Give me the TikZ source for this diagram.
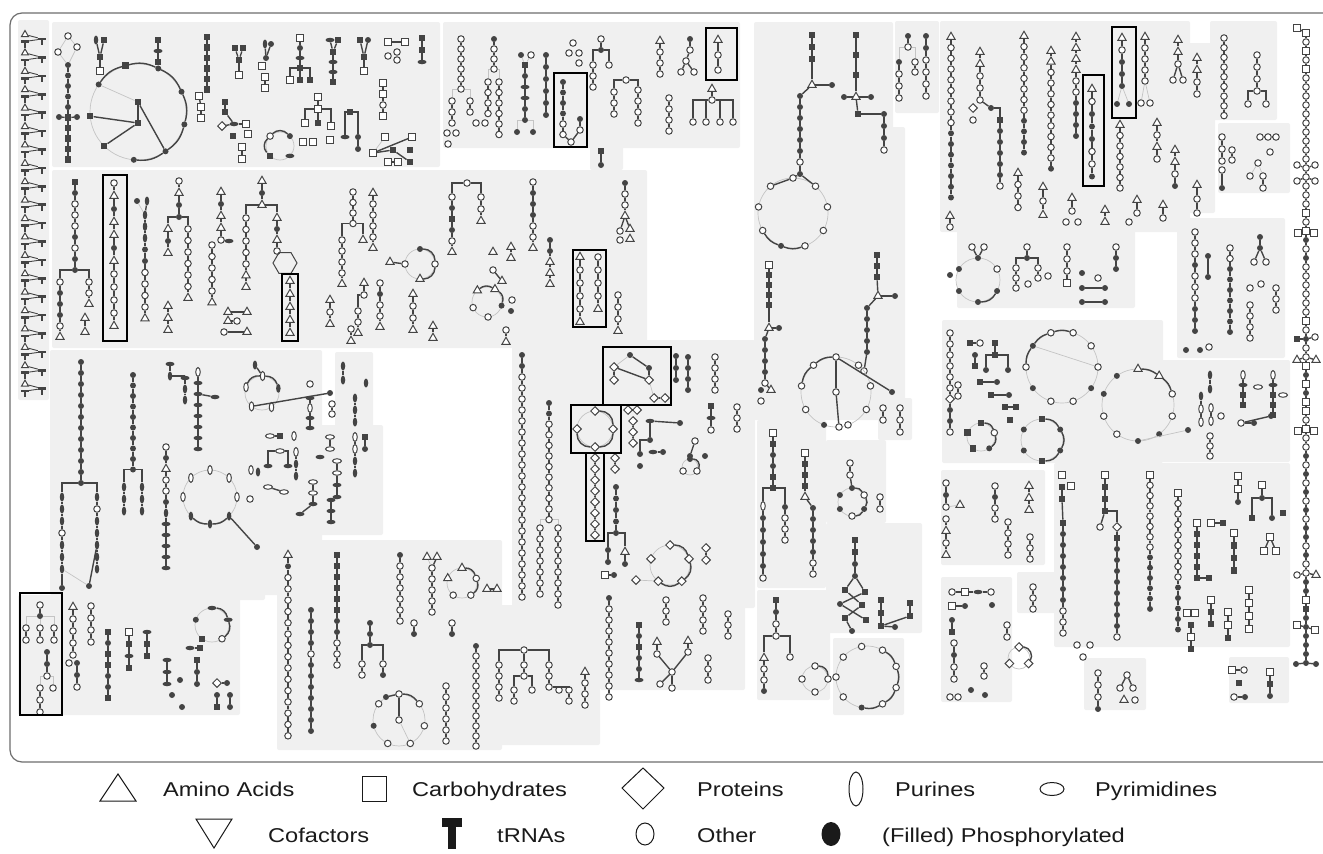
\documentclass[tikz,border=0pt]{standalone}
\usepackage{fontspec}
\setmainfont{Liberation Sans}
\newfontfamily\lgf[FakeStretch=1.18]{Liberation Sans}
\usetikzlibrary{shapes.geometric}
\definecolor{ng}{HTML}{444444}
\definecolor{pg}{HTML}{F0F0F0}
\definecolor{lg}{HTML}{C4C4C4}
\definecolor{fr}{HTML}{6E6E6E}
\definecolor{tx}{HTML}{1A1A1A}
\tikzset{
 kO/.style={circle,draw=ng,fill=white,line width=1pt,inner sep=0pt,minimum size=6.5pt},
 kF/.style={circle,fill=ng,inner sep=0pt,minimum size=6pt},
 kS/.style={rectangle,draw=ng,fill=white,line width=1pt,inner sep=0pt,minimum size=6.5pt},
 kQ/.style={rectangle,fill=ng,inner sep=0pt,minimum size=6.5pt},
 kT/.style={regular polygon,regular polygon sides=3,draw=ng,fill=white,line width=1pt,inner sep=0pt,minimum size=9.5pt},
 kD/.style={diamond,draw=ng,fill=white,line width=1pt,inner sep=0pt,minimum size=9pt},
 kP/.style={ellipse,fill=ng,inner sep=0pt,minimum width=4.5pt,minimum height=9pt},
 kp/.style={ellipse,draw=ng,fill=white,line width=1pt,inner sep=0pt,minimum width=4.5pt,minimum height=9pt},
 kY/.style={ellipse,fill=ng,inner sep=0pt,minimum width=9pt,minimum height=4.5pt},
 ky/.style={ellipse,draw=ng,fill=white,line width=1pt,inner sep=0pt,minimum width=9pt,minimum height=4.5pt},
 kRb/.style={rectangle,fill=ng,inner sep=0pt,minimum width=8pt,minimum height=2.6pt},
 kRs/.style={rectangle,fill=ng,inner sep=0pt,minimum width=2.4pt,minimum height=6pt},
 ed/.style={draw=ng,line width=1.4pt},
 el/.style={draw=lg,line width=0.7pt},
 hl/.style={draw=black,line width=2.8pt},
 lsym/.style={draw=tx,line width=1pt},
 lgt/.style={font=\lgf\fontsize{20}{24}\selectfont,text=tx,inner sep=0pt,anchor=base west},
}
\newcounter{ch}
\newcommand\Vc[4][11]{%
  \stepcounter{ch}\xdef\cid{q\the\value{ch}}%
  \foreach \ty [count=\i] in {#4}{%
    \node[k\ty] (\cid n\i) at (#2,{#3+(\i-1)*#1}) {};%
    \xdef\cL{\cid n\i}%
    \ifnum\i>1\relax\pgfmathtruncatemacro\jj{\i-1}\draw[ed] (\cid n\jj) -- (\cid n\i);\fi
  }%
  \xdef\cF{\cid n1}}
\newcommand\Hc[4][11]{%
  \stepcounter{ch}\xdef\cid{q\the\value{ch}}%
  \foreach \ty [count=\i] in {#4}{%
    \node[k\ty] (\cid n\i) at ({#2+(\i-1)*#1},#3) {};%
    \xdef\cL{\cid n\i}%
    \ifnum\i>1\relax\pgfmathtruncatemacro\jj{\i-1}\draw[ed] (\cid n\jj) -- (\cid n\i);\fi
  }%
  \xdef\cF{\cid n1}}
\newcommand\Rg[6]{%
  \stepcounter{ch}\xdef\cid{q\the\value{ch}}%
  \draw[el] (#1,#2) circle[radius=#3];%
  \foreach \ty [count=\i] in {#5}{\xdef\rN{\i}}%
  \pgfmathsetmacro\bA{180/\rN}%
  \foreach \ty [count=\i] in {#5}{%
    \node[k\ty] (\cid n\i) at ({#1+#3*cos(#4+(\i-1)*360/\rN)},{#2+#3*sin(#4+(\i-1)*360/\rN)}) {};}%
  \foreach \i in {1,...,#6}{\pgfmathtruncatemacro\jj{mod(\i,\rN)+1}\draw[ed] (\cid n\i) to[bend left=\bA] (\cid n\jj);}%
  \xdef\cF{\cid n1}\xdef\cL{\cid n\rN}}
\newcommand\SL[1]{\expandafter\xdef\csname #1\endcsname{\cL}}
\newcommand\SF[1]{\expandafter\xdef\csname #1\endcsname{\cF}}
\newcommand\SN[2]{\expandafter\xdef\csname #1\endcsname{\cid n#2}}
\newcommand\Lk[2]{\draw[ed] (#1) -- (#2);}
\newcommand\Ll[2]{\draw[el] (#1) -- (#2);}
\newcommand\Fk[2]{\draw[ed] (#1) -| (#2);}
\newcommand\Fl[2]{\draw[el] (#1) -| (#2);}
\newcommand\Pn[4]{\fill[pg,rounded corners=2pt] (#1,#2) rectangle (#3,#4);}
\newcommand\Hl[4]{\draw[hl] (#1,#2) rectangle (#3,#4);}
\begin{document}
\begin{tikzpicture}[x=1pt,y=-1pt]
\useasboundingbox (0,0) rectangle (1323,854);
\fill[white] (0,0) rectangle (1323,854);
% ---------------- panels
\Pn{18}{20}{49}{400}
\Pn{52}{22}{440}{167}
\Pn{443}{22}{740}{148}
\Pn{590}{137}{623}{170}
\Pn{52}{170}{647}{348}
\Pn{754}{22}{893}{420}
\Pn{880}{127}{905}{400}
\Pn{878}{398}{912}{440}
\Pn{895}{21}{939}{113}
\Pn{940}{21}{1190}{232}
\Pn{1100}{43}{1215}{213}
\Pn{1210}{21}{1277}{120}
\Pn{1218}{123}{1290}{193}
\Pn{957}{230}{1135}{308}
\Pn{1177}{218}{1285}{358}
\Pn{942}{320}{1163}{463}
\Pn{1100}{360}{1290}{462}
\Pn{50}{350}{322}{595}
\Pn{128}{590}{265}{600}
\Pn{335}{352}{373}{435}
\Pn{257}{425}{383}{535}
\Pn{18}{595}{240}{715}
\Pn{277}{540}{502}{750}
\Pn{466}{605}{600}{745}
\Pn{512}{340}{755}{608}
\Pn{600}{580}{745}{690}
\Pn{757}{420}{826}{588}
\Pn{826}{440}{886}{523}
\Pn{826}{523}{922}{633}
\Pn{757}{590}{830}{700}
\Pn{833}{638}{904}{715}
\Pn{941}{470}{1045}{565}
\Pn{1054}{463}{1290}{647}
\Pn{941}{577}{1012}{702}
\Pn{1017}{572}{1056}{613}
\Pn{1084}{658}{1146}{710}
\Pn{1229}{657}{1289}{703}
% ---------------- frame
\draw[fr,line width=1.2pt,rounded corners=12pt] (1345,13) -- (10,13) -- (10,762) -- (1345,762);
% ---------------- tRNA column
\foreach \i in {0,...,19}{%
  \pgfmathsetmacro\yy{39+18.4*\i}%
  \node[kT,minimum size=8pt] (ta\i) at (25,\yy-4.5) {};
  \node[kRb] (tb\i) at (25,\yy+2.5) {};
  \node[kRs] (ts\i) at (25,\yy+5.5) {};
  \node[kRb] (tc\i) at (42,\yy) {};
  \node[kRs] (td\i) at (42,\yy+3) {};
  \draw[ed,line width=0.9pt] (ta\i) -- (tc\i);
  \draw[ed,line width=0.9pt] (tb\i) -- (tc\i);
}
% ---------------- P2 top-left
\Vc{58}{52}{O}\SL{zA}\Vc{68}{36}{O}\SL{zB}\Vc{77}{47}{O}\SL{zC}\Ll{\zA}{\zB}\Ll{\zB}{\zC}
\Vc[10.5]{68}{65}{F,F,F,F,F,Q,Q,Q,Q,Q}\SN{zD}{6}\Ll{\zA}{\cF}\Ll{\zC}{\cF}
\Vc{59}{117}{F}\Lk{\zD}{\cL}\Vc{77}{117}{F}\Lk{\zD}{\cL}
\Rg{138}{112}{48}{215}{F,Q,F,F,F,F,F,Q,Q}{6}\SN{zE}{6}\SN{zF}{8}\SN{zG}{9}\SN{zJ}{1}
\Vc{138}{102}{Q}\SL{zH}\Vc{138}{123}{Q}\SL{zI}
\Lk{\zH}{\zE}\Lk{\zI}{\zF}\Lk{\zI}{\zG}\Ll{\zH}{\zJ}\Lk{\zH}{\zI}
\Vc{96}{40}{P}\SL{zA}\Vc{104}{40}{Q}\SL{zB}\Vc[14]{100}{57}{Q,S}\Lk{\zA}{\cF}\Lk{\zB}{\cF}
\Vc[11]{158}{40}{Q,Y,Q}
\Vc[10.5]{207}{37}{Q,Q,Q,Q,Q,Q}
\Vc{199}{96}{S}\SL{zA}\Vc[11]{201}{107}{S,S}\Lk{\zA}{\cF}
\Vc{235}{48}{Q}\SL{zA}\Vc{243}{48}{Q}\SL{zB}\Vc[15]{239}{60}{Q,S}\Lk{\zA}{\cF}\Lk{\zB}{\cF}
\Vc[10]{225}{102}{Q,Q}\SL{zA}\Vc{222}{126}{D}\SL{zB}\Hc[12]{234}{124}{Y,S}\Lk{\zB}{\cF}\Lk{\zA}{\cF}
\Vc{233}{136}{Q}\Vc{248}{134}{S}\Vc[12]{242}{147}{S,S}
\Vc{265}{44}{P}\SL{zA}\Vc{271}{44}{F}\SL{zB}\Vc{266}{58}{F}\Lk{\zA}{\cL}\Lk{\zB}{\cL}\Vc{262}{66}{S}\Vc[11]{265}{77}{S,S}
\Vc[10]{300}{38}{S,F,Y,Q}\SL{zA}
\Vc{290}{80}{S}\Fk{\zA}{\cL}\Vc{300}{80}{Q}\Lk{\zA}{\cL}\Vc{310}{80}{Q}\Fk{\zA}{\cL}
\Vc{330}{40}{Y}\SL{zA}\Vc{338}{40}{Q}\SL{zB}\Vc[10]{333}{52}{Q,Y,Y,Q}\Lk{\zA}{\cF}\Lk{\zB}{\cF}
\Vc{360}{40}{Q}\SL{zA}\Vc{368}{40}{F}\SL{zB}\Vc[14]{364}{57}{Q,S}\Lk{\zA}{\cF}\Lk{\zB}{\cF}
\Hc[17]{388}{42}{S,S}\Vc{388}{56}{O}\Vc{397}{52}{O}\Vc{397}{60}{O}
\Vc[12]{422}{38}{Q,Q,Y}
\Vc[11]{383}{83}{S,S,O,S}
\Vc[12]{318}{97}{S,S}\SL{zA}\Vc{305}{123}{S}\Fk{\zA}{\cL}\Vc{318}{123}{Q}\Lk{\zA}{\cL}\Vc{331}{126}{S}\Fk{\zA}{\cL}
\Vc{303}{142}{S}\Vc{313}{142}{S}\Vc{330}{140}{S}
\Vc{350}{112}{Q}\SL{zA}\Vc[12]{345}{137}{Y}\Fk{\zA}{\cL}\Vc[12]{358}{137}{F,F}\Fk{\zA}{\cF}
\Rg{280}{146}{14}{135}{Q,O,F,Y}{2}
\Vc{385}{137}{S}\SL{zA}\Vc{412}{137}{S}\SL{zB}\Vc{373}{153}{S}\SL{zC}\Vc{393}{150}{Q}\SL{zD}
\Lk{\zC}{\zB}\Ll{\zA}{\zC}\Lk{\zC}{\zD}
\Hc[10]{388}{162}{S,S}\Vc{410}{162}{Q}\Lk{\zD}{\cL}\Vc{410}{150}{Q}
% ---------------- P3 top-mid
\Vc[10]{461}{39}{O,O,O,O,O,O}\SL{zA}
\Vc[11]{452}{101}{O,O,O}\Fl{\zA}{\cF}\Vc[11]{470}{101}{O,O}\Fl{\zA}{\cF}\Vc{476}{123}{O}\Vc{485}{123}{O}
\Vc{447}{133}{O}\Vc{456}{133}{O}\Vc{448}{144}{O}
\Vc[10]{494}{39}{F,O,O,O}\SL{zA}
\Vc[10.5]{488}{82}{O,O,O,O}\Fl{\zA}{\cF}\Vc[10.5]{499}{82}{O,O,O,O,O,O}\Fl{\zA}{\cF}
\Vc{521}{55}{F}\SL{zA}\Vc{531}{55}{O}\SL{zB}
\Vc[11]{525}{65}{Q,F,Y,Y,F,F}\Ll{\zA}{\cF}\Ll{\zB}{\cF}\SL{zA}
\Vc{517}{132}{F}\Fl{\zA}{\cL}\Vc{533}{132}{F}\Fl{\zA}{\cL}
\Vc[12]{546}{55}{F,F,F,F,F,F}
\Vc[10.5]{563}{82}{F,F,F,F,O,O}\SL{zA}\Vc[11]{580}{119}{F,O}\SL{zB}\Vc{571}{142}{O}\Lk{\zA}{\cL}\Lk{\zB}{\cL}
\Vc{573}{43}{O}\Vc{569}{53}{O}\Vc{579}{53}{O}\Vc{579}{63}{O}
\Vc{601}{39}{O,F}\SL{zA}\Vc[11]{593}{65}{O,O,O}\Fk{\zA}{\cF}\Vc{609}{65}{O}\Fk{\zA}{\cL}
\Vc{626}{80}{O}\SL{zA}\Vc[11]{614}{92}{O,O,O}\Fk{\zA}{\cF}\Vc[11]{638}{90}{O,O,O,O}\Fk{\zA}{\cF}
\Vc[11]{660}{41}{T,O,O,O}
\Vc[11]{669}{98}{O,O,O,O}
\Vc[11]{690}{39}{F,O}\SL{zA}\Vc{686}{61}{O}\Lk{\zA}{\cL}\SL{zB}\Vc{681}{72}{O}\Lk{\zB}{\cL}\Vc{694}{72}{O}\Lk{\zB}{\cL}
\Vc[15]{718}{40}{T,O,O}
\Vc[11]{712}{89}{T,O}\SL{zA}\Vc{693}{122}{O}\Fk{\zA}{\cL}\Vc{706}{122}{O}\Fk{\zA}{\cL}\Vc{720}{122}{O}\Fk{\zA}{\cL}\Vc{733}{122}{O}\Fk{\zA}{\cL}
\Vc[14]{601}{151}{Q,F}
% ---------------- P4 second row
\Vc[11]{75}{182}{Q,F,O,O,O,F,O,F,F}\SL{zA}
\Vc[11]{60}{282}{O,F,F,F,O,T}\Fk{\zA}{\cF}\Vc[11]{89}{282}{O,O,T}\Fk{\zA}{\cF}
\Vc[14]{85}{318}{T,T}
\Vc[13]{114}{183}{O,T,F,T,T,F,T,O,O,O,O,T}
\Vc{137}{201}{F}\SL{zA}\Vc{147}{201}{P}\SL{zB}
\Vc[11.5]{145}{215}{P,P,P,F,F,O,O,O,O,T}\Ll{\zA}{\cF}\Lk{\zB}{\cF}
\Vc[12]{179}{181}{O,T,F,F}\SL{zA}
\Vc[12]{168}{229}{T,F,T}\Fk{\zA}{\cF}\Vc[11.5]{188}{229}{O,O,O,O,O,O,T}\Fk{\zA}{\cF}
\Vc[12]{168}{306}{T,T,T}
\Vc[12]{221}{192}{T,F,T,T,O}\SL{zA}\Vc{229}{241}{Y}\Lk{\zA}{\cL}
\Vc[11.5]{212}{245}{O,O,O,O,O,T}
\Vc[12]{262}{181}{T,F,T}\SL{zA}
\Vc[11.5]{246}{218}{O,O,O,O,O,T,T}\Fk{\zA}{\cF}
\Vc[11]{277}{218}{T,F,T,O}\Fk{\zA}{\cF}\SL{zB}
\node[regular polygon,regular polygon sides=6,draw=ng,line width=1pt,minimum size=24pt,inner sep=0pt] (hex) at (285,263) {};
\Lk{\zB}{hex}
\Vc[13]{290}{281}{T,T,T,T,T}
\Hc[19]{228}{312}{T,T}\Hc[9]{228}{321}{T,O}\Hc[23]{224}{332}{O,T}
\Vc[10.5]{353}{192}{O,O,O,O}\SL{zA}\Vc[11]{342}{240}{O,O,O,O,T}\Fk{\zA}{\cF}\Vc{363}{240}{T}\Fk{\zA}{\cL}
\Vc[11]{373}{193}{T,O,O,O,O,T}
\Vc[12]{330}{300}{T,O,T}
\Vc[12]{351}{329}{O,T}
\Vc[12]{364}{283}{T,O}\SL{zA}\Vc[11]{358}{311}{O,O,T}\Fk{\zA}{\cF}
\Vc[11]{380}{283}{O,F,O,O,T}
\Vc{390}{262}{T}\SL{zA}\Rg{420}{264}{15}{270}{F,O,T,O}{2}\SN{zB}{4}\Lk{\zA}{\zB}
\Vc[12]{413}{294}{T,O,O,T}\Vc[12]{433}{326}{T,T}
\Vc{467}{183}{O}\SL{zA}
\Vc[11]{452}{197}{O,F,Q,F,O,T}\Fk{\zA}{\cF}\Vc[12]{481}{197}{O,O,T}\Fk{\zA}{\cF}
\Vc[11]{533}{182}{O,F,F,F,O,O,T}
\Vc{493}{252}{T}\Vc[11]{511}{247}{T,T}
\Vc{493}{270}{O}\SL{zA}\Vc{502}{281}{T}\Lk{\zA}{\cL}
\Rg{487}{302}{15}{230}{T,T,F,O,O}{2}
\Vc{512}{300}{O}\Vc{511}{311}{F}
\Vc[12]{506}{330}{O,T}
\Vc[11]{550}{240}{F,F,T,T,T}
\Vc[13]{580}{257}{T,O,O,O,O,T}
\Vc[13]{598}{257}{O,O,O,O,T}
\Vc[12]{618}{295}{O,O,O,T}
\Vc[11]{625}{183}{F,O,O,T}\SL{zA}\Vc{620}{231}{O}\Lk{\zA}{\cL}\Vc{630}{229}{T}\Lk{\zA}{\cL}\Vc{620}{240}{O}\Vc{630}{239}{T}
% ---------------- P13 purines
\Vc[11]{81}{362}{F,F,F,F,F,F,F,F,F,F,F,F}\SL{zA}
\Vc[12]{62}{497}{P,P,P,O,P,P,P}\Fk{\zA}{\cF}\SL{zB}\Vc[12]{97}{497}{P,O,P,P,P,P,P}\Fk{\zA}{\cF}\SN{zC}{5}
\Vc{62}{588}{F}\Lk{\zB}{\cL}\Vc{89}{586}{F}\Lk{\zC}{\cL}\Ll{\zB}{\cL}
\Vc[10.5]{133}{375}{F,F,F,F,F,F,F,F,F,F}\SL{zA}
\Vc[12]{124}{487}{P,P,P}\Fk{\zA}{\cF}\Vc[12]{142}{487}{P,P,P}\Fk{\zA}{\cF}
\Vc[11]{166}{447}{O,F,T,O,O,F,P,Y,Y,Y,Y,Y}
\Vc[12]{170}{364}{Y,P}\SL{zA}\Vc[11]{185}{378}{Y,P,P}\Fk{\zA}{\cF}
\Vc[11]{198}{372}{p,Y,Y,Y,Y,Y,Y,Y}\SN{zA}{3}\Vc{215}{397}{Y}\Lk{\zA}{\cL}
\Rg{210}{497}{27}{45}{P,P,P,p,p,p,p,p}{2}\SN{zA}{1}\Vc{257}{547}{F}\Lk{\zA}{\cL}
\Vc{251}{470}{p}\Vc{258}{472}{P}\Vc{250}{499}{O}
\Vc{255}{365}{P}\SL{zA}
\Rg{262}{393}{17}{200}{p,p,P,p,p}{2}\SN{zB}{2}\Lk{\zA}{\zB}\SN{zC}{5}
\Vc{330}{393}{F}\Lk{\zC}{\cL}
\Vc{310}{384}{O}\Vc[10]{310}{398}{Y,p,Y,Y}
\Vc[10]{332}{404}{O,O}
\Vc[14]{343}{366}{P,P}\Vc[12]{355}{398}{P,P,P}\Vc{366}{383}{P}
% ---------------- P15
\Hc[10]{270}{436}{y,Q}\Vc{294}{436}{p}
\Vc{280}{451}{y}\SL{zA}\Vc{268}{466}{Y}\Fk{\zA}{\cL}\Vc{288}{466}{Y}\Fk{\zA}{\cL}
\Vc[12]{296}{452}{p,P,P}
\Vc[12]{330}{437}{y,y}\Vc[12]{337}{461}{y,y,Y,Y}\Vc{320}{457}{Y}
\Vc[12]{355}{437}{p,p,P,P}\Vc[12]{365}{437}{Q,F}
\Vc{268}{487}{y}\SL{zA}\Vc{284}{492}{y}\Lk{\zA}{\cL}\Vc[11]{313}{482}{y,y,Y}\SL{zB}\Vc{300}{514}{Y}\Lk{\zB}{\cL}
\Vc[11]{331}{500}{Y,Y,Y}
% ---------------- P16 bottom-left
\Vc{40}{605}{O,F}\SL{zA}
\Vc[12]{26}{628}{O,O}\Fl{\zA}{\cF}\Vc[12]{40}{628}{O,O}\Ll{\zA}{\cF}\Vc[12]{54}{628}{O,O}\Fl{\zA}{\cF}
\Vc[12]{47}{652}{F,F,O}\SL{zA}\Vc[12]{40}{688}{O,O,O}\Fl{\zA}{\cF}\Vc{53}{688}{O}\Fl{\zA}{\cL}
\Vc[12]{73}{607}{T,O,O,O,O}\Vc{69}{663}{O}\Vc[12]{77}{663}{F,F,O}
\Vc[12]{91}{606}{O,O,O,O}
\Vc[11]{108}{632}{Q,F,Q,Q,F,F,Q}
\Vc[12]{129}{632}{S,Q,Y,Q}
\Vc[12]{147}{632}{Y,Q,Q}
\Rg{212}{625}{17}{270}{Y,Y,O,Q,F}{2}
\Vc[12]{167}{660}{Y,Y,Y}\Vc{180}{680}{F}\Vc{172}{695}{F}\Vc{182}{707}{F}
\Hc[10]{190}{648}{Y,Q}\Vc[12]{197}{660}{Q,F,F}
\Hc[10]{217}{683}{D,F}\Vc[12]{217}{695}{F,Q}\Vc[12]{230}{695}{F,F}
% ---------------- P17
\Vc[11.3]{288}{555}{T,F,O,O,O,O,O,O,O,O,O,O,O,O,O,O,O}
\Vc[11]{311}{610}{F,F,F,F,O,F,F,F,F,F,F,F}
\Vc[11]{337}{555}{Q,Q,Q,Q,Q,Q,F,F,O,O,O}
\Vc[11]{370}{623}{F,F,F}\SL{zA}\Vc[11]{362}{664}{O,O}\Fk{\zA}{\cF}\Vc[11]{383}{664}{O,F}\Fk{\zA}{\cF}
\Vc[11]{400}{555}{F,O,O,O,O,O,O}
\Vc{427}{557}{T}\SL{zA}\Vc{437}{557}{T}\SL{zB}\Vc[11]{432}{568}{O,O,O,O,O}\Ll{\zA}{\cF}\Lk{\zB}{\cF}
\Rg{462}{583}{15}{270}{T,O,O,O,T}{2}
\Hc[10]{487}{589}{T,T}
\Vc[11]{414}{623}{O,F}\Vc[11]{452}{623}{O,F}
\Rg{399}{720}{26}{270}{O,O,O,O,O,F,O}{1}\SN{zA}{1}\SN{zB}{4}\Vc{399}{720}{O}\Lk{\zA}{\cL}\Ll{\cL}{\zB}
\Vc{386}{697}{F}\Lk{\zA}{\cL}
\Vc[11]{446}{686}{O,O,O,O,O,O}
\Vc[10]{476}{646}{F,O,O,O,O,O,O,O,O,O,O}
% ---------------- tree panel
\Vc{524}{650}{O}\SL{zA}
\Vc[11]{499}{665}{O,O,O,O}\Fk{\zA}{\cF}
\Vc[11]{524}{665}{O,O}\Lk{\zA}{\cF}\SL{zB}
\Vc[11]{549}{665}{O,O,O}\Fk{\zA}{\cF}\SL{zC}
\Vc[11]{514}{690}{O,O}\Fk{\zB}{\cF}\Vc{532}{690}{O}\Fk{\zB}{\cL}
\Vc{559}{690}{O}\Fk{\zC}{\cL}\Vc[11]{569}{690}{O,O}\Fk{\zC}{\cF}
\Vc[11]{585}{672}{T,O,O,O}
% ---------------- P18 proteins
\Vc[11]{522}{355}{F,F,O,O,O,O,O,O,O,O,O,O,O,O,O,O,O,O,O,O,O,O,O}
\Vc[10.6]{549}{403}{F,F,O,O,O,O,O,O,O,O,O,O}\SL{zA}
\Vc[11]{540}{528}{O,O,O,O,O,O,O}\Fl{\zA}{\cF}\Vc[11]{558}{528}{O,O,O,O,O,O,O,O}\Fl{\zA}{\cF}
\Rg{595}{429}{18}{270}{D,D,D,D}{3}
\Vc[11]{595}{458}{D,D,D,D,D,D,D,D}
\Vc{630}{355}{F}\SL{zA}\Vc{649}{368}{F}\Lk{\zA}{\cL}\SL{zB}\Vc{649}{380}{D}\SL{zC}\Lk{\zB}{\zC}
\Vc[13]{614}{367}{D,D}\Lk{\cF}{\zC}\Ll{\zA}{\cF}
\Hc[11]{654}{398}{D,D}\Ll{\zC}{\cF}
\Hc[9]{628}{410}{D,D}\Vc[11]{633}{421}{D,D,D}
\Vc[11]{615}{458}{D,D}
\Vc[11.5]{616}{487}{F,F,F,F,F}\SL{zA}
\Vc[12]{608}{550}{F,F}\Fk{\zA}{\cF}\Vc[12]{625}{552}{T,F}\Fk{\zA}{\cF}\Hc[9]{605}{575}{S,F}
\Vc[12]{676}{356}{F,F,F}\Vc[11]{688}{357}{F,F,F,F}
\Vc[11]{715}{357}{O,O,O,O}\Vc[11]{737}{407}{O,O,O}
\Vc[12]{711}{406}{Q,Y,O}
\Vc{650}{421}{Y}\SL{zA}\Vc{680}{423}{F}\Lk{\zA}{\cL}\Vc{650}{440}{F}\Lk{\zA}{\cL}\SL{zB}
\Vc{640}{454}{F}\Fk{\zB}{\cL}\Hc[10]{653}{452}{Y,F}\Vc{640}{466}{F}
\Vc{695}{441}{O}\SL{zA}\Vc{690}{456}{F}\Lk{\zA}{\cL}\Vc{705}{456}{F}
\Rg{690}{467}{8}{270}{F,O,O}{1}
\Rg{670}{565}{20}{270}{D,D,D,D,D}{3}\SN{zA}{4}
\Vc[12]{706}{548}{D,D}\Vc{636}{580}{D}\Ll{\zA}{\cL}
% ---------------- P19
\Vc[11]{609}{598}{F,O,O,O,O,O,O,O,O,O}
\Vc[11]{639}{625}{Q,F,Q,F,F,Y}
\Vc[11]{666}{600}{O,O,O}\Vc[11]{703}{598}{O,O,O,O}\Vc[11]{728}{614}{O,O,O}
\Vc[12]{657}{642}{T,O}\SL{zB}\Vc[11]{688}{641}{T,O}\SL{zA}
\Vc{672}{672}{O}\Lk{\zA}{\cL}\Lk{\zB}{\cL}\SL{zC}\Vc{660}{684}{O}\Lk{\zC}{\cL}\Vc{672}{688}{O}\Lk{\zC}{\cL}
\Vc[11]{708}{658}{O,O,O}
% ---------------- P5 middle column
\Vc[12]{812}{35}{Q,Q,Q}\SL{zA}
\Vc{812}{85}{T}\Lk{\zA}{\cL}\SL{zB}\Vc{832}{85}{F}\Lk{\zB}{\cL}
\Vc[11]{800}{96}{F,F,F,F,F,F,O}\Lk{\zB}{\cF}\SL{zC}
\Vc{800}{174}{F}\Lk{\zC}{\cL}\SL{zD}
\Rg{793}{213}{35}{70}{O,F,O,O,O,O,O,O,O}{2}\SN{zE}{6}\SN{zF}{5}\SN{zG}{7}\Lk{\zD}{\zE}\Lk{\zE}{\zF}\Lk{\zD}{\zG}
\Vc[20]{856}{35}{Q,Q,Q}\SL{zA}
\Vc{856}{97}{T}\Lk{\zA}{\cL}\SL{zB}\Vc{844}{97}{F}\Lk{\zB}{\cL}\Vc{871}{97}{F}\Lk{\zB}{\cL}
\Vc{858}{114}{Q}\Lk{\zB}{\cL}\SL{zC}\Vc[12]{884}{114}{F,F,F,O}\Lk{\zC}{\cF}
\Vc[10]{769}{265}{S,Q,Q,Q,Q}\SL{zA}
\Vc{769}{328}{T}\Lk{\zA}{\cL}\SL{zB}\Vc{779}{328}{F}\Lk{\zB}{\cL}
\Vc[11]{765}{339}{F,F,F,F,O}\Lk{\zB}{\cF}\SL{zC}
\Vc{761}{390}{F}\Vc{771}{390}{T}\Lk{\zC}{\cL}\Vc{761}{401}{O}
\Vc[11]{877}{255}{Q,Q,Q}\SL{zA}\Vc{878}{296}{T}\Lk{\zA}{\cL}\SL{zB}\Vc{895}{296}{F}\Lk{\zB}{\cL}
\Vc[11]{867}{308}{F,F,F,F,F}\Lk{\zB}{\cF}\SL{zC}\Vc{864}{371}{O}\Lk{\zC}{\cL}
\Rg{836}{392}{35}{190}{O,O,O,O,O,O,O,F,O}{2}\SN{zA}{3}\SN{zB}{8}\SN{zC}{5}
\Vc{836}{392}{O}\Lk{\zA}{\cL}\SL{zD}\Vc{839}{427}{O}\Lk{\zD}{\cL}
\Vc{892}{392}{F}\Lk{\zA}{\cL}
\Vc[12]{883}{408}{O,O}\Vc[12]{900}{408}{O,O,O}
% ---------------- P6
\Vc{908}{36}{F,O}\SL{zA}\Vc[12]{899}{62}{F,O,O,O}\Fl{\zA}{\cF}\Vc[10]{915}{62}{O,O}\Fl{\zA}{\cF}
\Vc[12]{926}{36}{F,F,O,O,O,O}
% ---------------- P7 right top
\Vc[10.7]{951}{37}{T,O,O,O,O,O,O,O,O,F,F,F,F,F,F,F}
\Vc[11]{950}{216}{T,O}
\Vc[12]{980}{52}{T,T,O,O,O}\SL{zA}
\Vc{973}{108}{D}\Vc{973}{120}{O}
\Vc{991}{108}{F}\Lk{\zA}{\cL}\SL{zB}\Vc[11]{1000}{120}{Q,F,F,F,F,F,O}\Fk{\zB}{\cF}
\Vc[10.6]{1024}{36}{T,O,O,O,O,O,O,O,F,F,F,F}
\Vc[11.5]{1018}{173}{T,O,O,O}
\Vc[10.7]{1051}{51}{T,T,O,O,O,O,O,O,O,O,O,F}
\Vc[14]{1043}{187}{T,O,T}
\Vc[11]{1076}{37}{T,T,T,T,O,O,F,F,F,F}
\Vc[12.5]{1092}{89}{T,O,F,F,F,O,O,F}
\Vc[12]{1122}{38}{T,O,F,F,F}\SL{zA}\Vc{1117}{104}{F}\Ll{\zA}{\cL}\Vc{1129}{104}{F}\Ll{\zA}{\cL}
\Vc[10.5]{1120}{125}{T,O,O,O,O,O,O}
\Vc[13]{1072}{198}{T,O}\Vc{1066}{222}{O}\Vc{1078}{222}{O}
\Vc[12]{1105}{210}{T,T}
\Vc[11]{1145}{37}{T,O,O,O,O}\SL{zA}\Vc{1141}{103}{O}\Ll{\zA}{\cL}\Vc{1150}{103}{O}\Ll{\zA}{\cL}
\Vc[12]{1157}{123}{T,O,T,O}
\Vc[12]{1178}{40}{T,T,O}\SL{zA}\Vc{1173}{80}{O}\Lk{\zA}{\cL}\Vc{1183}{80}{O}\Lk{\zA}{\cL}
\Vc[12]{1197}{58}{T,T,O,O}
\Vc[12]{1175}{150}{T,T,O,F}
\Vc[14]{1197}{185}{T,O,O}
\Vc[13]{1163}{205}{T,O}
\Vc[13]{1137}{200}{T,O}\Vc{1129}{222}{O}
% ---------------- P8, P9
\Vc[9.7]{1224}{38}{O,O,O,O,O,O,O,O,O}
\Vc[12]{1257}{55}{O,O,O,O}\SL{zA}\Vc{1248}{104}{O}\Fk{\zA}{\cL}\Vc{1266}{104}{O}\Fk{\zA}{\cL}
\Vc[12]{1222}{137}{O,O,O}\Vc[10]{1232}{150}{O,O}\Vc[18]{1222}{170}{O,F}
\Hc[8]{1260}{137}{O,O,O}\Vc{1270}{152}{O}
\Vc{1258}{163}{O}\SL{zA}\Vc{1250}{176}{O}\Ll{\zA}{\cL}\Vc[12]{1263}{176}{O,O}\Ll{\zA}{\cF}
% ---------------- right column chain
\Vc[9]{1306}{33}{S,O,S,O,S,O,O,O,O,O,O,O,O,O,O,O,O,O,O,O,S,O,S,F,O,F,O,O,O,O,O,O,S,O,F,O,O,S,F,S,F,S,S,O,S,O,O,F,O,F,O,F,O,F,O,F,F,O,F,O,O,F,F,S,Q,F,F,F,F,F,F}\edef\rc{\cid}
\Vc{1297}{28}{S}\Lk{\rc n1}{\cL}
\Vc{1297}{165}{O}\Lk{\rc n16}{\cL}\Vc{1315}{165}{O}\Lk{\rc n16}{\cL}\Vc{1297}{181}{O}\Lk{\rc n17}{\cL}\Vc{1315}{181}{O}\Lk{\rc n17}{\cL}
\Vc{1298}{233}{S}\Lk{\rc n23}{\cL}\Vc{1314}{233}{S}\Lk{\rc n23}{\cL}
\Vc{1297}{339}{Q}\Lk{\rc n35}{\cL}\Vc{1315}{337}{O}\Lk{\rc n35}{\cL}
\Vc{1297}{360}{T}\Lk{\rc n37}{\cL}\Vc{1316}{360}{T}\Lk{\rc n37}{\cL}
\Vc{1298}{431}{S}\Lk{\rc n45}{\cL}\Vc{1314}{431}{S}\Lk{\rc n45}{\cL}
\Vc{1297}{575}{O}\Lk{\rc n61}{\cL}\Vc{1316}{575}{T}\Lk{\rc n61}{\cL}
\Vc{1297}{625}{S}\Lk{\rc n67}{\cL}\Vc{1315}{630}{S}\Lk{\rc n67}{\cL}
\Vc{1296}{664}{F}\Lk{\rc n71}{\cL}\Vc{1316}{664}{F}\Lk{\rc n71}{\cL}
% ---------------- P10
\Rg{978}{280}{22}{30}{F,F,F,F,F,O}{1}\SN{zA}{5}
\Vc{972}{247}{O}\Lk{\zA}{\cL}\Vc{984}{247}{O}\Lk{\zA}{\cL}\Vc{950}{275}{F}
\Vc{1027}{247}{O,F}\SL{zA}\Vc[10]{1016}{268}{O,O,O}\Fk{\zA}{\cF}\Vc[10]{1038}{268}{O,O}\Fk{\zA}{\cF}\Vc{1048}{276}{O}\Vc{1028}{284}{O}
\Vc[12]{1067}{247}{O,O,O,S}
\Vc{1082}{273}{F}\Vc{1098}{278}{O}\Hc[23]{1082}{288}{F,F}\Hc[23]{1082}{302}{F,F}
\Vc[11]{1116}{247}{O,F,F}
% ---------------- P11
\Vc[11]{1195}{232}{O,O,O,F,O,O,O,F,F,F}
\Vc[21]{1208}{256}{F,F}
\Vc[10.5]{1230}{248}{O,O,F,F,F,F,F,F,F}
\Vc[11]{1260}{237}{F,F}\SL{zA}\Vc{1254}{262}{O}\Lk{\zA}{\cL}\Vc{1266}{262}{O}\Lk{\zA}{\cL}
\Vc{1250}{288}{O}\Vc{1261}{284}{O}
\Vc[11]{1276}{288}{O,O,O}
\Vc[11]{1250}{305}{O,O,O,O}
\Vc{1186}{350}{F}\Vc{1200}{350}{F}\Vc{1209}{347}{O}
% ---------------- P12
\Vc[11]{950}{333}{O,O,O,O,O,O,D,F,F,O}
\Vc[11]{958}{385}{O,O}
\Hc[10]{970}{343}{Q,O}\Vc[11]{975}{355}{F,Q}
\Vc[12]{995}{343}{Q,Q}\SL{zA}\Vc{986}{370}{F}\Fk{\zA}{\cL}\Vc{1008}{370}{F}\Fk{\zA}{\cL}
\Hc[17]{980}{382}{Q,F}\Hc[18]{991}{395}{Q,F}\Hc[11]{1005}{407}{Q,Q}\Vc{1010}{420}{Q}
\Rg{1062}{367}{36}{180}{O,F,O,O,O,O,F,O,O,F}{3}\SN{zA}{2}\SN{zB}{6}\Ll{\zA}{\zB}
\Rg{1138}{405}{36}{270}{T,T,O,O,F,F,O,O,F,F}{2}\SN{zA}{6}\Vc{1188}{430}{F}\Ll{\zA}{\cL}
\Rg{981}{437}{14}{270}{Q,O,F,Q,Q}{2}
\Rg{1042}{440}{21}{270}{Q,F,F,Q,F,F}{3}
\Vc[14]{1210}{375}{P,P}\Vc[13]{1201}{396}{P,p,p}\Vc[13]{1211}{408}{p,p}\Vc{1221}{416}{O}
\Vc[10]{1210}{436}{O,O,O}
\Vc[10]{1243}{375}{p,Y,Q,Q}\Vc{1258}{387}{y}
\Vc[10]{1273}{375}{p,Y,Q,Q,Q}\Vc{1283}{395}{y}
\Vc{1241}{423}{O}\SL{zA}\Vc{1254}{423}{F}\Lk{\zA}{\cL}\Vc{1271}{416}{F}\Lk{\cL}{\zA}
% ---------------- P20
\Vc[11]{773}{433}{S,Q,F,F,Q,Q}\SL{zA}
\Vc[12]{763}{506}{p,F,F,F,F,F,O}\Fk{\zA}{\cF}\Vc[11]{785}{507}{F,O,O,O}\Fk{\zA}{\cF}
\Vc[11]{805}{453}{S,Q,Q,Q}\SL{zA}\Vc{805}{497}{T}\Lk{\zA}{\cL}\SL{zB}
\Vc[11]{813}{508}{F,F,F,F,F,O,O}\Lk{\zB}{\cF}
\Vc[12]{850}{463}{O,O}\SL{zA}
\Rg{852}{502}{14}{270}{F,O,F,O,F,F}{3}\SN{zB}{1}\Lk{\zA}{\zB}
\Vc[12]{880}{497}{O,O}
\Vc[12]{855}{540}{Q,Q,F,F}\SL{zG}
\Vc{845}{590}{Q}\SL{zA}\Vc{865}{592}{Q}\SL{zB}\Vc{840}{604}{F}\SL{zC}\Vc{862}{605}{Q}\SL{zD}
\Vc{845}{618}{Q}\SL{zE}\Vc{866}{620}{Q}\SL{zF}\Vc{852}{631}{F}
\Lk{\zG}{\zA}\Lk{\zG}{\zB}\Lk{\zA}{\zD}\Lk{\zB}{\zC}\Lk{\zC}{\zF}\Lk{\zD}{\zE}\Lk{\zE}{\cL}
\Vc[13]{881}{600}{Q,Q,Q}\SL{zA}\Vc{895}{627}{F}\Lk{\zA}{\cL}\Vc[13]{910}{603}{Q,Q}\Lk{\cL}{\zA}
\Vc[12]{776}{600}{Q,F,O,O}\SL{zA}\Vc[11]{764}{658}{T,O,O,F}\Fk{\zA}{\cF}\Vc{790}{657}{O}\Fk{\zA}{\cL}
\Rg{815}{679}{13}{270}{O,O,O,O}{1}
\Rg{867}{677}{31}{300}{O,O,O,O,F,O,O,O,O}{4}
% ---------------- P21
\Vc[12]{946}{483}{O,F,O}\SL{zA}\Vc{960}{505}{T}\Ll{\zA}{\cL}
\Vc[12]{946}{519}{O,T,O,T}
\Vc[11]{995}{486}{O,F,O,O}
\Vc[12]{1029}{486}{T,T,T}
\Vc[11]{1008}{522}{O,O,O,O}
\Vc[11]{1030}{537}{O,O,O}
\Vc{1062}{475}{S}\Vc{1071}{486}{S}\Vc[12]{1062}{487}{Q,Q}\SL{zA}
\Vc[11]{1063}{523}{Q,F,F,F,F,F,F,F,O,O,O}\Lk{\zA}{\cF}
\Vc[12]{1105}{475}{S,Q,Q,Q}\SL{zA}\Vc{1100}{527}{O}\Lk{\zA}{\cL}
\Vc[11]{1117}{527}{D,Q,F,F,F,F,F,F,F,F,O}\Fk{\zA}{\cF}
\Vc[10.3]{1150}{475}{S,O,O,O,O,O,O,O,F,F,F,F,F,F}
\Vc[10.5]{1178}{493}{S,O,O,O,O,O,O,O,O,F,F,F,F,F}
\Vc[11]{1197}{523}{S,Q,Q,Q,Q,Q}\SL{zA}\Hc[12]{1211}{523}{S,Q}\Vc{1209}{578}{Q}\Lk{\zA}{\cL}\Ll{\cL}{\cF}
\Vc[13]{1238}{476}{S,S,F}
\Vc[13]{1262}{485}{S,F}\SL{zA}\Vc{1252}{518}{Q}\Fk{\zA}{\cL}\Vc{1272}{518}{F}\Fk{\zA}{\cL}\Vc{1283}{513}{Q}
\Vc{1270}{537}{S}\SL{zA}\Vc{1264}{551}{S}\Lk{\zA}{\cL}\Vc{1276}{551}{S}\Lk{\zA}{\cL}
\Vc[12.5]{1234}{533}{S,Q,Q,Q}
\Vc[12]{1211}{600}{S,Q,Q}
\Vc[13]{1228}{612}{S,S,Q}
\Vc[13]{1249}{590}{S,S,S,S}
\Vc{1187}{613}{S}\Vc{1195}{613}{S}\Vc[12]{1191}{625}{Q,S,Q}
\Vc{1077}{645}{O}\Vc{1090}{645}{O}\Vc{1083}{657}{O}
\Hc[13]{952}{592}{O,S,Y,O}\Hc[13]{952}{606}{S,F}\Vc{992}{605}{F}
\Vc[12]{952}{620}{F,Q}
\Vc[12]{1007}{625}{O,O}
\Vc[12]{954}{643}{O,F,O,O}\Vc{950}{697}{O}\Vc{958}{697}{O}
\Vc[10]{984}{666}{O,O}\Vc{971}{690}{F}\Vc{985}{695}{F}
\Rg{1019}{658}{11}{270}{D,D,D}{1}
\Vc[11]{1033}{587}{O,O,O}
\Vc[12]{1098}{673}{O,O,O,F}\Vc{1127}{675}{O}\SL{zA}\Vc{1120}{688}{O}\Lk{\zA}{\cL}\Vc{1133}{688}{O}\Lk{\zA}{\cL}\Vc{1124}{700}{T}\Vc{1135}{700}{O}
\Hc[12]{1232}{670}{S,O}\Vc{1239}{683}{Q}\Hc[11]{1234}{697}{O,F}
\Vc[12]{1270}{672}{S,Q,F}
% ---------------- highlight boxes
\Hl{706}{28}{737}{80}
\Hl{554}{73}{587}{147}
\Hl{1112}{27}{1136}{118}
\Hl{1083}{75}{1104}{186}
\Hl{103}{175}{127}{341}
\Hl{282}{274}{298}{341}
\Hl{573}{250}{606}{327}
\Hl{603}{347}{671}{405}
\Hl{571}{405}{621}{453}
\Hl{586}{453}{604}{541}
\Hl{20}{593}{62}{715}
% ---------------- legend
\draw[lsym] (100,801) -- (118,774) -- (136,801) -- cycle;
\node[lgt] (la) at (163,796) {Amino Acids};
\draw[lsym] (362,776) rectangle (386,801);
\node[lgt] (lb) at (412,796) {Carbohydrates};
\draw[lsym] (643,768) -- (664,788) -- (643,809) -- (622,788) -- cycle;
\node[lgt] (lc) at (697,796) {Proteins};
\draw[lsym] (856,789) ellipse [x radius=7, y radius=17];
\node[lgt] (ld) at (895,796) {Purines};
\draw[lsym] (1052,789) ellipse [x radius=12, y radius=6.5];
\node[lgt] (le) at (1095,796) {Pyrimidines};
\draw[lsym] (196,819) -- (232,819) -- (214,848) -- cycle;
\node[lgt] (lf) at (268,842) {Cofactors};
\fill[tx] (442,818) rectangle (462,827);
\fill[tx] (448,827) rectangle (456,849);
\node[lgt] (lg) at (497,842) {tRNAs};
\draw[lsym] (645,834) ellipse [x radius=9, y radius=11];
\node[lgt] (lh) at (697,842) {Other};
\fill[tx] (831,834) ellipse [x radius=9.5, y radius=12];
\node[lgt] (li) at (882,842) {(Filled) Phosphorylated};
\end{tikzpicture}
\end{document}
